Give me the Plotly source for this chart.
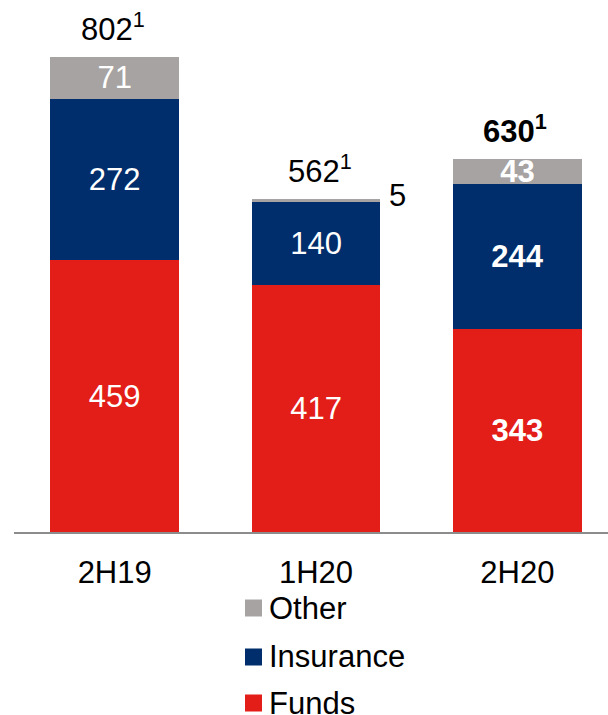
import plotly.graph_objects as go

categories = ["2H19", "1H20", "2H20"]
funds = [459, 417, 343]
insurance = [272, 140, 244]
other = [71, 5, 43]
totals = [802, 562, 630]
series_names = ["Funds", "Insurance", "Other"]
colors = {"Funds": "#E31D17", "Insurance": "#002D6B", "Other": "#A6A3A2"}
bold_cat = "2H20"

FONT = "Liberation Sans, Arial, sans-serif"
FS = 31
W, H = 608, 715
BASE = 532  # px of plot bottom

fig = go.Figure()
for name, vals in zip(series_names, [funds, insurance, other]):
    texts = []
    for c, v in zip(categories, vals):
        if name == "Other" and v < 10:
            texts.append("")
        elif c == bold_cat:
            texts.append(f"<b>{v}</b>")
        else:
            texts.append(str(v))
    fig.add_trace(go.Bar(
        x=categories, y=vals, name=name,
        marker=dict(color=colors[name], line=dict(width=0)),
        text=texts, textposition="inside", insidetextanchor="middle",
        textfont=dict(family=FONT, size=FS, color="white"),
        textangle=0, constraintext="none",
        showlegend=False, hoverinfo="skip",
    ))

annotations = []
xshifts = {"2H19": -2, "1H20": 4, "2H20": -2}
for c, t in zip(categories, totals):
    txt = f"{t}<sup>1</sup>"
    if c == bold_cat:
        txt = f"<b>{t}<sup>1</sup></b>"
    annotations.append(dict(
        x=c, y=t, xref="x", yref="y", text=txt, showarrow=False,
        yanchor="middle", yshift=30, xshift=xshifts[c],
        font=dict(family=FONT, size=FS, color="black"),
    ))

# small "Other" value label beside the 1H20 bar
for c, v, t in zip(categories, other, totals):
    if v < 10:
        annotations.append(dict(
            x=c, y=t, xref="x", yref="y", text=str(v), showarrow=False,
            yanchor="middle", xanchor="left", xshift=71, yshift=4,
            font=dict(family=FONT, size=FS, color="black"),
        ))

# manual legend
legend_order = ["Other", "Insurance", "Funds"]
row_px = [608, 657, 703]
shapes = []
for name, py in zip(legend_order, row_px):
    yc = (BASE - py) / BASE
    half = 8.5 / BASE
    shapes.append(dict(
        type="rect", xref="paper", yref="paper",
        x0=(245 - 14) / (W - 14), x1=(262 - 14) / (W - 14),
        y0=yc - half, y1=yc + half,
        fillcolor=colors[name], line=dict(width=0),
    ))
    annotations.append(dict(
        x=(267 - 14) / (W - 14), y=yc, xref="paper", yref="paper",
        text=name, showarrow=False, xanchor="left", yanchor="middle",
        font=dict(family=FONT, size=FS, color="black"),
    ))

fig.update_layout(
    barmode="stack", bargap=0.36,
    width=W, height=H,
    margin=dict(l=14, r=0, t=0, b=H - BASE, pad=0),
    plot_bgcolor="white", paper_bgcolor="white",
    annotations=annotations, shapes=shapes,
    xaxis=dict(
        type="category", range=[-0.5, 2.45], showline=True,
        linecolor="#8C8C8C", linewidth=2, ticks="", showgrid=False,
        tickfont=dict(family=FONT, size=FS, color="black"),
        ticklabelstandoff=12,
    ),
    yaxis=dict(range=[0, 898], visible=False, showgrid=False, zeroline=False),
    uniformtext=dict(mode=False),
)

fig.write_html(
    "out.html",
    config={"displayModeBar": False},
    post_script="document.body.style.margin='0';document.body.style.padding='0';document.body.style.overflow='hidden';",
)
